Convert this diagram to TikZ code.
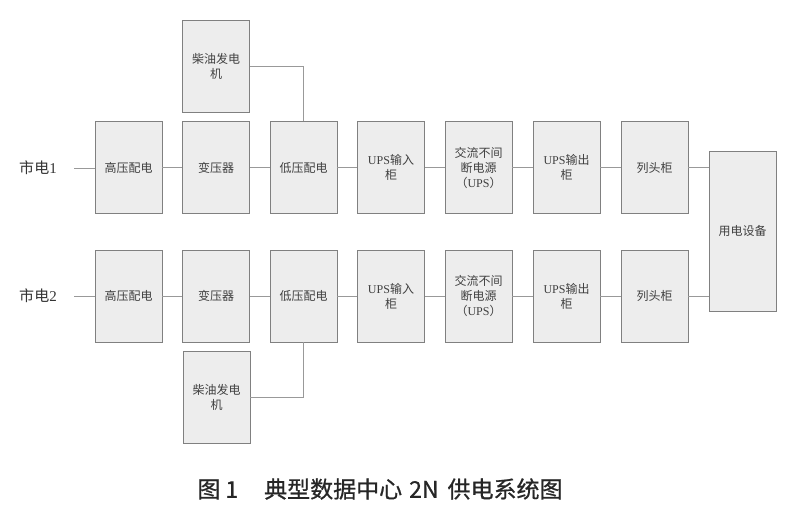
\documentclass[tikz,border=0pt]{standalone}
\usepackage{fontspec}
\setmainfont{Liberation Serif}
\newfontfamily\cjk{Noto Sans CJK SC}
\newfontfamily\capfont[FakeBold=0.8]{Noto Sans CJK SC}
\begin{document}
\begin{tikzpicture}[x=1pt,y=-1pt,
  blk/.style={draw=black!50, fill=black!7, line width=0.8pt, minimum width=67pt, minimum height=92pt, inner sep=1pt, align=center, text=black!75, font=\fontsize{12}{15}\selectfont\cjk},
  conn/.style={draw=black!40, line width=0.8pt},
  lbl/.style={font=\fontsize{15}{17}\selectfont\cjk, text=black!80}]
\useasboundingbox (0,0) rectangle (797,513);
% row 1
\node[lbl] (m1) at (38,168) {市电{\rmfamily 1}};
\node[blk] (a1) at (128.5,167.5) {高压配电};
\node[blk] (b1) at (216,167.5) {变压器};
\node[blk] (c1) at (303.5,167.5) {低压配电};
\node[blk] (d1) at (391,167.5) {{\rmfamily UPS}输入\\柜};
\node[blk] (e1) at (478.5,167.5) {交流不间\\断电源\\（{\rmfamily UPS}）};
\node[blk] (f1) at (566.5,167.5) {{\rmfamily UPS}输出\\柜};
\node[blk] (g1) at (654.5,167.5) {列头柜};
\node[blk] (gen1) at (216,66) {柴油发电\\机};
% row 2
\node[lbl] (m2) at (38,296) {市电{\rmfamily 2}};
\node[blk] (a2) at (128.5,296) {高压配电};
\node[blk] (b2) at (216,296) {变压器};
\node[blk] (c2) at (303.5,296) {低压配电};
\node[blk] (d2) at (391,296) {{\rmfamily UPS}输入\\柜};
\node[blk] (e2) at (478.5,296) {交流不间\\断电源\\（{\rmfamily UPS}）};
\node[blk] (f2) at (566.5,296) {{\rmfamily UPS}输出\\柜};
\node[blk] (g2) at (654.5,296) {列头柜};
\node[blk] (gen2) at (216.5,397.5) {柴油发电\\机};
% load
\node[blk, minimum height=160pt] (u) at (742.5,231) {用电设备};
% connectors row 1
\coordinate (s1) at (74,168);
\coordinate (s2) at (74,296);
\draw[conn] (s1) -- (a1.west|-s1);
\draw[conn] (a1) -- (b1);
\draw[conn] (b1) -- (c1);
\draw[conn] (c1) -- (d1);
\draw[conn] (d1) -- (e1);
\draw[conn] (e1) -- (f1);
\draw[conn] (f1) -- (g1);
\draw[conn] (g1.east) -- (u.west|-g1.east);
\draw[conn] (gen1.east) -| (c1.north);
% row 2
\draw[conn] (s2) -- (a2.west|-s2);
\draw[conn] (a2) -- (b2);
\draw[conn] (b2) -- (c2);
\draw[conn] (c2) -- (d2);
\draw[conn] (d2) -- (e2);
\draw[conn] (e2) -- (f2);
\draw[conn] (f2) -- (g2);
\draw[conn] (g2.east) -- (u.west|-g2.east);
\draw[conn] (gen2.east) -| (c2.south);
% caption
\node[font=\fontsize{23}{26}\selectfont\capfont, text=black!85, inner sep=0pt] (cap) at (380,489) {图\hspace{5pt}1\hspace{26pt}典型数据中心\hspace{7pt}2N\hspace{9pt}供电系统图};
\end{tikzpicture}
\end{document}
